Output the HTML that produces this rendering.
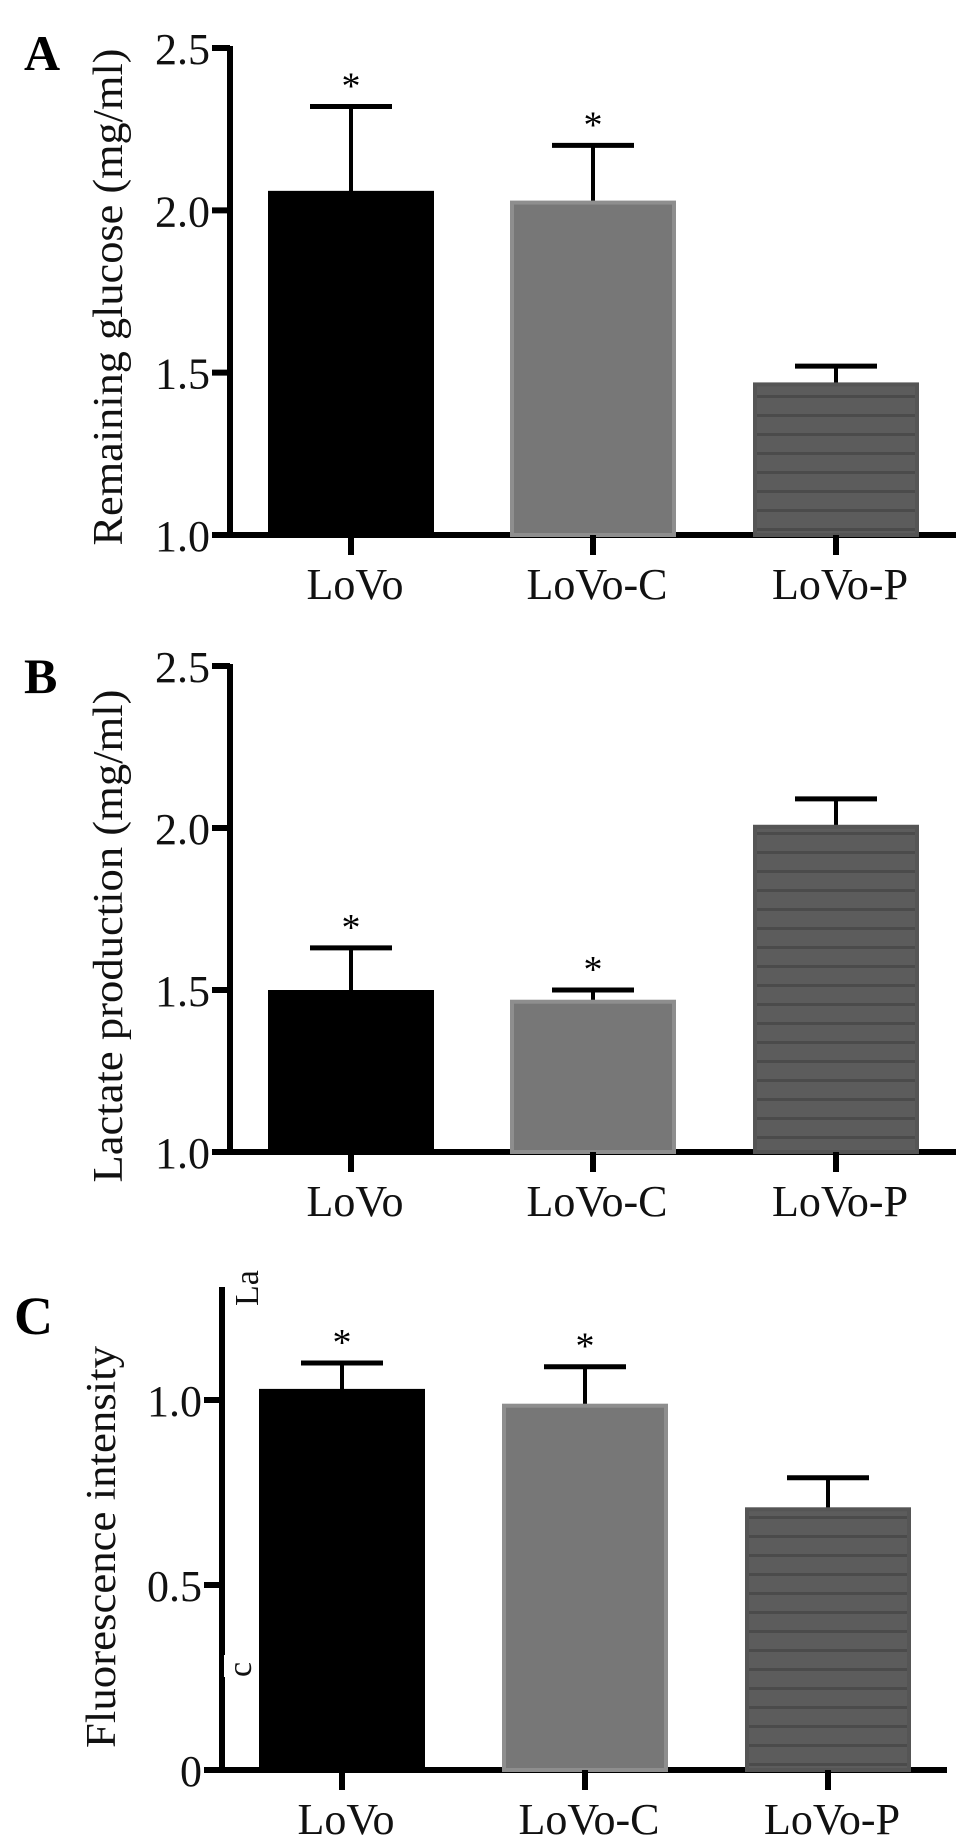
<!DOCTYPE html>
<html><head><meta charset="utf-8"><style>
html,body{margin:0;padding:0;background:#fff}
svg{display:block;font-family:"Liberation Serif",serif}
</style></head><body>
<svg id="fig" width="969" height="1847" viewBox="0 0 969 1847">
<defs>
<pattern id="stripes" width="10" height="19" patternUnits="userSpaceOnUse">
<rect width="10" height="19" fill="#5c5c5c"/><rect y="15" width="10" height="3" fill="#4b4b4b"/>
</pattern>
</defs>
</svg>
<script>
const categories = ["LoVo","LoVo-C","LoVo-P"];
const aValues = [2.06, 2.03, 1.47];
const aErrors = [0.26, 0.17, 0.05];
const aSig = [true, true, false];
const aTicks = ["1.0","1.5","2.0","2.5"];
const bValues = [1.50, 1.47, 2.01];
const bErrors = [0.13, 0.03, 0.08];
const bSig = [true, true, false];
const bTicks = ["1.0","1.5","2.0","2.5"];
const cValues = [1.03, 0.99, 0.71];
const cErrors = [0.07, 0.10, 0.08];
const cSig = [true, true, false];
const cTicks = ["0","0.5","1.0"];

const NS="http://www.w3.org/2000/svg";
const svg=document.getElementById('fig');
function mk(tag,attrs,parent){const e=document.createElementNS(NS,tag);for(const k in attrs)e.setAttribute(k,attrs[k]);(parent||svg).appendChild(e);return e;}
const fills=["#000","#777","url(#stripes)"];
const strokes=["#000","#8e8e8e","#555"];

function panel(cfg){
  const g=mk('g',{});
  
  
  const y=v=>cfg.y0+(v-cfg.vmin)*(cfg.y1-cfg.y0)/(cfg.vmax-cfg.vmin);
  const letter=mk('text',{x:cfg.lx,y:cfg.ly,'font-size':cfg.lsize,'font-weight':'bold'},g);letter.textContent=cfg.id.toUpperCase();
  
  
  const base=y(cfg.vmin);
  const ya=mk('line',{x1:cfg.ax,x2:cfg.ax,y1:cfg.axTop,y2:base+3,stroke:'#000','stroke-width':6},g);
  
  
  const xa=mk('line',{x1:cfg.ax-18,x2:cfg.xEnd,y1:base,y2:base,stroke:'#000','stroke-width':6},g);
  
  
  cfg.ticks.forEach(t=>{
    const v=parseFloat(t),yy=y(v);
    mk('line',{x1:cfg.ax-18,x2:cfg.ax,y1:yy,y2:yy,stroke:'#000','stroke-width':6},g);
    const tl=mk('text',{x:cfg.ax-20,y:yy+16,'font-size':44,'text-anchor':'end',fill:'#111'},g);tl.textContent=t;
    
    
  });
  const yt=mk('text',{x:0,y:0,'font-size':42,'text-anchor':'middle',fill:'#111',textLength:cfg.tlen,lengthAdjust:'spacingAndGlyphs',transform:`translate(${cfg.tx},${cfg.ty}) rotate(-90)`},g);
  yt.textContent=cfg.title;
  
  
  cfg.values.forEach((v,i)=>{
    const cx=cfg.centers[i],w=166,top=y(v);
    const et=y(v+cfg.errors[i]);
    const el=mk('line',{x1:cx,x2:cx,y1:et,y2:top+4,stroke:'#000','stroke-width':4},g);
    
    
    mk('line',{x1:cx-41,x2:cx+41,y1:et,y2:et,stroke:'#000','stroke-width':5},g);
    const b=mk('rect',{x:cx-w/2+2,y:top+2,width:w-4,height:base-top-2,fill:fills[i],stroke:strokes[i],'stroke-width':4},g);
    
    
    if(cfg.sig[i]){const s=mk('text',{x:cx,y:et-8,'font-size':38,'text-anchor':'middle'},g);s.textContent='*';
      
      }
    mk('line',{x1:cx,x2:cx,y1:base,y2:base+20,stroke:'#000','stroke-width':6},g);
    const xl=mk('text',{x:cx+4,y:base+64,'font-size':44,'text-anchor':'middle',fill:'#111'},g);xl.textContent=categories[i];
    
    
  });
  return g;
}
panel({id:'a',values:aValues,errors:aErrors,sig:aSig,ticks:aTicks,vmin:1,vmax:2.5,y0:535,y1:48,ax:230,axTop:46,xEnd:956,
  centers:[351,593,836],title:'Remaining glucose (mg/ml)',tlen:497,tx:122,ty:297,lx:24,ly:70,lsize:50});
panel({id:'b',values:bValues,errors:bErrors,sig:bSig,ticks:bTicks,vmin:1,vmax:2.5,y0:1152,y1:666,ax:230,axTop:664,xEnd:956,
  centers:[351,593,836],title:'Lactate production (mg/ml)',tlen:493,tx:122,ty:936,lx:24,ly:693,lsize:50});
const gc=panel({id:'c',values:cValues,errors:cErrors,sig:cSig,ticks:cTicks,vmin:0,vmax:1.0,y0:1770,y1:1400,ax:222,axTop:1287,xEnd:947,
  centers:[342,585,828],title:'Fluorescence intensity',tlen:402,tx:115,ty:1547,lx:14,ly:1334,lsize:54});
mk('rect',{x:224,y:1655,width:10,height:22,fill:'#fff'},gc);
const la=mk('text',{x:0,y:0,'font-size':34,transform:'translate(258,1306) rotate(-90)',fill:'#111'},gc);la.textContent='La';


const cc=mk('text',{x:0,y:0,'font-size':34,transform:'translate(251,1677) rotate(-90)',fill:'#111'},gc);cc.textContent='c';


</script>
</body></html>
